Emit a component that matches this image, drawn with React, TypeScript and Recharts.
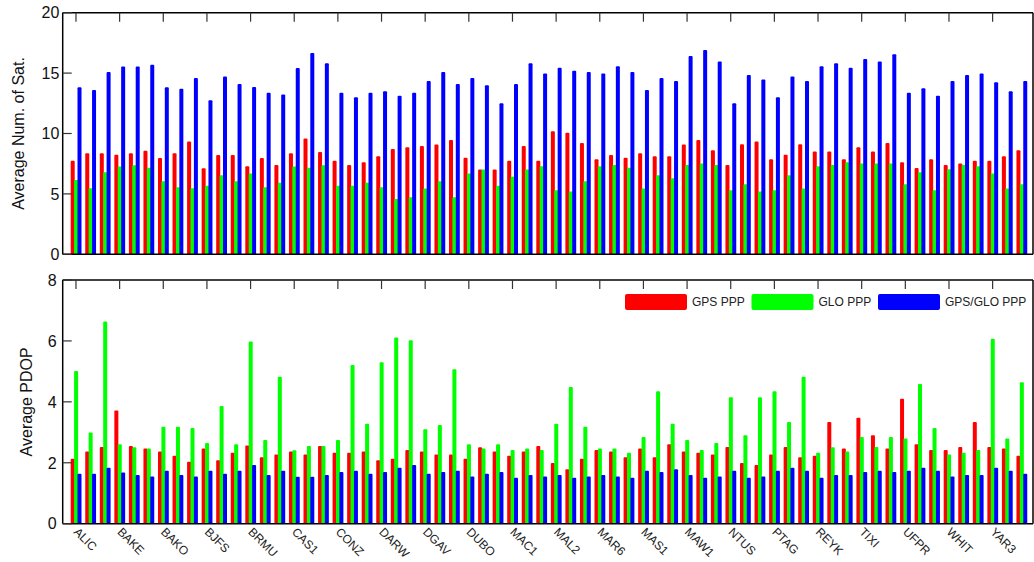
import React from "react";
import { BarChart, Bar, XAxis, YAxis, Legend } from "recharts";

const stations = [
  "ALIC", "S02", "S03", "BAKE", "S05", "S06", "BAKO", "S08", "S09", "BJFS", "S11", "S12",
  "BRMU", "S14", "S15", "CAS1", "S17", "S18", "CONZ", "S20", "S21", "DARW", "S23", "S24",
  "DGAV", "S26", "S27", "DUBO", "S29", "S30", "MAC1", "S32", "S33", "MAL2", "S35", "S36",
  "MAR6", "S38", "S39", "MAS1", "S41", "S42", "MAW1", "S44", "S45", "NTUS", "S47", "S48",
  "PTAG", "S50", "S51", "REYK", "S53", "S54", "TIXI", "S56", "S57", "UFPR", "S59", "S60",
  "WHIT", "S62", "S63", "YAR3", "S65", "S66",
];

const gpsSat = [
  7.75, 8.36, 8.36, 8.25, 8.36, 8.58, 7.97, 8.36, 9.33, 7.12, 8.22, 8.22, 7.28, 7.97, 7.4, 8.36, 9.58, 8.47,
  7.75, 7.4, 7.62, 8.11, 8.72, 8.86, 8.97, 9.08, 9.46, 8.0, 7.01, 7.01, 7.75, 8.97, 7.75, 10.18, 10.07, 9.22,
  7.86, 8.22, 8.0, 8.36, 8.11, 8.11, 9.08, 9.46, 8.61, 7.4, 9.11, 9.33, 7.86, 8.25, 9.11, 8.5, 8.5, 7.86,
  8.86, 8.5, 9.22, 7.62, 7.15, 7.86, 7.4, 7.51, 7.75, 7.75, 8.11, 8.61,
];
const gloSat = [
  6.15, 5.46, 6.79, 7.26, 7.37, 7.17, 6.04, 5.55, 5.46, 5.68, 6.54, 6.04, 6.68, 5.55, 5.93, 7.26, 7.17, 7.37,
  5.68, 5.68, 5.93, 5.55, 4.58, 4.72, 5.44, 6.04, 4.72, 6.68, 7.01, 5.68, 6.43, 7.01, 7.28, 5.3, 5.19, 6.04,
  7.28, 7.4, 7.17, 5.44, 6.54, 6.29, 7.4, 7.51, 7.4, 5.3, 5.79, 5.19, 5.3, 6.54, 5.44, 7.28, 7.4, 7.62,
  7.51, 7.51, 7.51, 5.79, 6.79, 5.3, 7.04, 7.4, 7.28, 6.68, 5.44, 5.79,
];
const bothSat = [
  13.82, 13.6, 15.09, 15.54, 15.54, 15.7, 13.82, 13.71, 14.6, 12.75, 14.71, 14.1, 13.85, 13.38, 13.22, 15.42, 16.67, 15.81,
  13.38, 13.0, 13.38, 13.49, 13.13, 13.38, 14.35, 15.09, 14.1, 14.6, 13.99, 12.5, 14.1, 15.81, 14.96, 15.45, 15.2, 15.09,
  14.96, 15.56, 15.09, 13.6, 14.6, 14.35, 16.42, 16.91, 15.95, 12.5, 14.85, 14.46, 13.0, 14.71, 14.35, 15.56, 15.81, 15.45,
  16.17, 15.95, 16.56, 13.38, 13.74, 13.13, 14.35, 14.85, 14.96, 14.24, 13.49, 14.35,
];

const gpsPdop = [
  2.13, 2.37, 2.52, 3.72, 2.55, 2.47, 2.37, 2.23, 2.03, 2.47, 2.08, 2.33, 2.57, 2.18, 2.27, 2.37, 2.27, 2.55,
  2.33, 2.33, 2.37, 2.08, 2.13, 2.42, 2.37, 2.27, 2.27, 2.13, 2.51, 2.37, 2.23, 2.37, 2.55, 1.99, 1.79, 2.13,
  2.42, 2.37, 2.18, 2.47, 2.18, 2.61, 2.37, 2.33, 2.27, 2.52, 1.99, 1.93, 2.27, 2.52, 2.18, 2.23, 3.34, 2.47,
  3.48, 2.9, 2.47, 4.1, 2.61, 2.42, 2.42, 2.52, 3.34, 2.52, 2.47, 2.23,
];
const gloPdop = [
  5.01, 2.99, 6.64, 2.61, 2.51, 2.47, 3.18, 3.18, 3.14, 2.65, 3.86, 2.61, 5.98, 2.75, 4.82, 2.41, 2.55, 2.55,
  2.75, 5.21, 3.28, 5.3, 6.11, 6.02, 3.1, 3.24, 5.07, 2.61, 2.47, 2.61, 2.42, 2.47, 2.42, 3.28, 4.49, 3.18,
  2.47, 2.47, 2.33, 2.85, 4.35, 3.28, 2.75, 2.42, 2.65, 4.15, 2.9, 4.15, 4.35, 3.34, 4.82, 2.33, 2.51, 2.37,
  2.85, 2.52, 2.85, 2.8, 4.59, 3.14, 2.27, 2.33, 2.42, 6.07, 2.8, 4.64,
];
const bothPdop = [
  1.64, 1.64, 1.84, 1.68, 1.6, 1.55, 1.74, 1.6, 1.55, 1.74, 1.64, 1.74, 1.93, 1.6, 1.74, 1.54, 1.54, 1.6,
  1.7, 1.74, 1.64, 1.7, 1.84, 1.93, 1.64, 1.7, 1.74, 1.55, 1.64, 1.7, 1.51, 1.6, 1.55, 1.6, 1.51, 1.55,
  1.6, 1.55, 1.51, 1.74, 1.7, 1.79, 1.6, 1.51, 1.55, 1.74, 1.51, 1.55, 1.74, 1.84, 1.74, 1.51, 1.6, 1.6,
  1.7, 1.74, 1.7, 1.74, 1.84, 1.74, 1.55, 1.6, 1.6, 1.84, 1.74, 1.64,
];

const satTicks = [0, 5, 10, 15, 20];
const pdopTicks = [0, 2, 4, 6, 8];
const seriesNames = ["GPS PPP", "GLO PPP", "GPS/GLO PPP"];
const colors = ["#ff0000", "#00ff00", "#0000ff"];

const data = stations.map((name, i) => ({
  name,
  gpsSat: gpsSat[i],
  gloSat: gloSat[i],
  bothSat: bothSat[i],
  gpsPdop: gpsPdop[i],
  gloPdop: gloPdop[i],
  bothPdop: bothPdop[i],
}));

const FONT = "'Liberation Sans', Arial, Helvetica, sans-serif";
const TICK_LEN = 9;
const LINE = "#000";
const TICKC = "#333";

const LeftTick = (gap: number) => (props: any) => {
  const { x, y, payload } = props;
  return (
    <g>
      <line x1={x} y1={y} x2={x + TICK_LEN} y2={y} stroke={TICKC} strokeWidth={1.2} />
      <text x={x - gap} y={y} dy="0.36em" textAnchor="end" fontSize={16} fill="#111" fontFamily={FONT}>
        {payload.value}
      </text>
    </g>
  );
};

const RightTick = (props: any) => {
  const { x, y } = props;
  return <line x1={x - TICK_LEN} y1={y} x2={x} y2={y} stroke={TICKC} strokeWidth={1.2} />;
};

const TopTick = (props: any) => {
  const { x, y } = props;
  return <line x1={x} y1={y} x2={x} y2={y + TICK_LEN} stroke={TICKC} strokeWidth={1.2} />;
};

const BottomLabel = (props: any) => {
  const { x, y, payload } = props;
  const ax = x - 3;
  const ay = y + 9;
  return (
    <text
      x={ax}
      y={ay}
      transform={`rotate(45 ${ax} ${ay})`}
      textAnchor="start"
      fontSize={12}
      fill="#222"
      fontFamily={FONT}
    >
      {payload.value}
    </text>
  );
};

const YTitle = (props: any) => {
  const { viewBox, text, bx } = props;
  const cy = viewBox.y + viewBox.height / 2;
  return (
    <text
      x={bx}
      y={cy}
      transform={`rotate(-90 ${bx} ${cy})`}
      textAnchor="middle"
      fontSize={16}
      fill="#111"
      fontFamily={FONT}
    >
      {text}
    </text>
  );
};

const LegendContent = (props: any) => {
  const payload = [...(props.payload || [])].sort(
    (a: any, b: any) => seriesNames.indexOf(a.value) - seriesNames.indexOf(b.value)
  );
  return (
    <svg width={410} height={20} style={{ display: "block" }}>
      {payload.map((p: any, i: number) => {
        const x0 = 5 + i * 126.5;
        return (
          <g key={i}>
            <rect x={x0} y={2} width={62} height={16} rx={2} fill={p.color} />
            <text x={x0 + 67} y={10} dy="0.36em" fontSize={12} fill="#222" fontFamily={FONT}>
              {p.value}
            </text>
          </g>
        );
      })}
    </svg>
  );
};

const axisLine = { stroke: LINE, strokeWidth: 1.5 };
const xPad = { left: 6, right: 4 };

export default function App() {
  return (
    <div style={{ position: "absolute", left: 0, top: 0, width: 1034, height: 562, background: "#fff" }}>
      <div style={{ position: "absolute", left: 0, top: 0 }}>
        <BarChart
          width={1034}
          height={262}
          data={data}
          margin={{ top: 11.7, right: 0, bottom: 6.7, left: 0 }}
          barSize={4}
          barGap={-0.6}
        >
          <XAxis dataKey="name" height={1} tick={false} tickLine={false} axisLine={axisLine} padding={xPad} />
          <XAxis
            xAxisId="top"
            orientation="top"
            dataKey="name"
            height={1}
            interval={2}
            tickLine={false}
            tickSize={0}
            tickMargin={0}
            tick={TopTick}
            axisLine={axisLine}
            padding={xPad}
          />
          <YAxis
            width={62.7}
            domain={[0, 20]}
            ticks={satTicks}
            interval={0}
            tickLine={false}
            tickSize={0}
            tickMargin={0}
            tick={LeftTick(3.4)}
            axisLine={axisLine}
            label={<YTitle text="Average Num. of Sat." bx={24} />}
          />
          <YAxis
            yAxisId="right"
            orientation="right"
            width={1}
            domain={[0, 20]}
            ticks={satTicks}
            interval={0}
            tickLine={false}
            tickSize={0}
            tickMargin={0}
            tick={RightTick}
            axisLine={axisLine}
          />
          <Bar dataKey="gpsSat" name={seriesNames[0]} fill={colors[0]} radius={[1, 1, 0, 0]} isAnimationActive={false} />
          <Bar dataKey="gloSat" name={seriesNames[1]} fill={colors[1]} radius={[1, 1, 0, 0]} isAnimationActive={false} />
          <Bar dataKey="bothSat" name={seriesNames[2]} fill={colors[2]} radius={[1, 1, 0, 0]} isAnimationActive={false} />
        </BarChart>
      </div>
      <div style={{ position: "absolute", left: 0, top: 262 }}>
        <BarChart
          width={1034}
          height={300}
          data={data}
          margin={{ top: 17, right: 0, bottom: 0.3, left: 0 }}
          barSize={4}
          barGap={-0.6}
        >
          <XAxis
            dataKey="name"
            height={38}
            interval={2}
            tickLine={false}
            tickSize={0}
            tickMargin={0}
            tick={BottomLabel}
            axisLine={axisLine}
            padding={xPad}
          />
          <XAxis
            xAxisId="top"
            orientation="top"
            dataKey="name"
            height={1}
            interval={2}
            tickLine={false}
            tickSize={0}
            tickMargin={0}
            tick={TopTick}
            axisLine={axisLine}
            padding={xPad}
          />
          <YAxis
            width={62.7}
            domain={[0, 8]}
            ticks={pdopTicks}
            interval={0}
            tickLine={false}
            tickSize={0}
            tickMargin={0}
            tick={LeftTick(6)}
            axisLine={axisLine}
            label={<YTitle text="Average PDOP" bx={32} />}
          />
          <YAxis
            yAxisId="right"
            orientation="right"
            width={1}
            domain={[0, 8]}
            ticks={pdopTicks}
            interval={0}
            tickLine={false}
            tickSize={0}
            tickMargin={0}
            tick={RightTick}
            axisLine={axisLine}
          />
          <Legend
            layout="horizontal"
            verticalAlign="middle"
            align="center"
            content={<LegendContent />}
            wrapperStyle={{ position: "absolute", left: 620, top: 30, width: 410, height: 20 }}
          />
          <Bar dataKey="gpsPdop" name={seriesNames[0]} fill={colors[0]} radius={[1, 1, 0, 0]} isAnimationActive={false} />
          <Bar dataKey="gloPdop" name={seriesNames[1]} fill={colors[1]} radius={[1, 1, 0, 0]} isAnimationActive={false} />
          <Bar dataKey="bothPdop" name={seriesNames[2]} fill={colors[2]} radius={[1, 1, 0, 0]} isAnimationActive={false} />
        </BarChart>
      </div>
    </div>
  );
}
